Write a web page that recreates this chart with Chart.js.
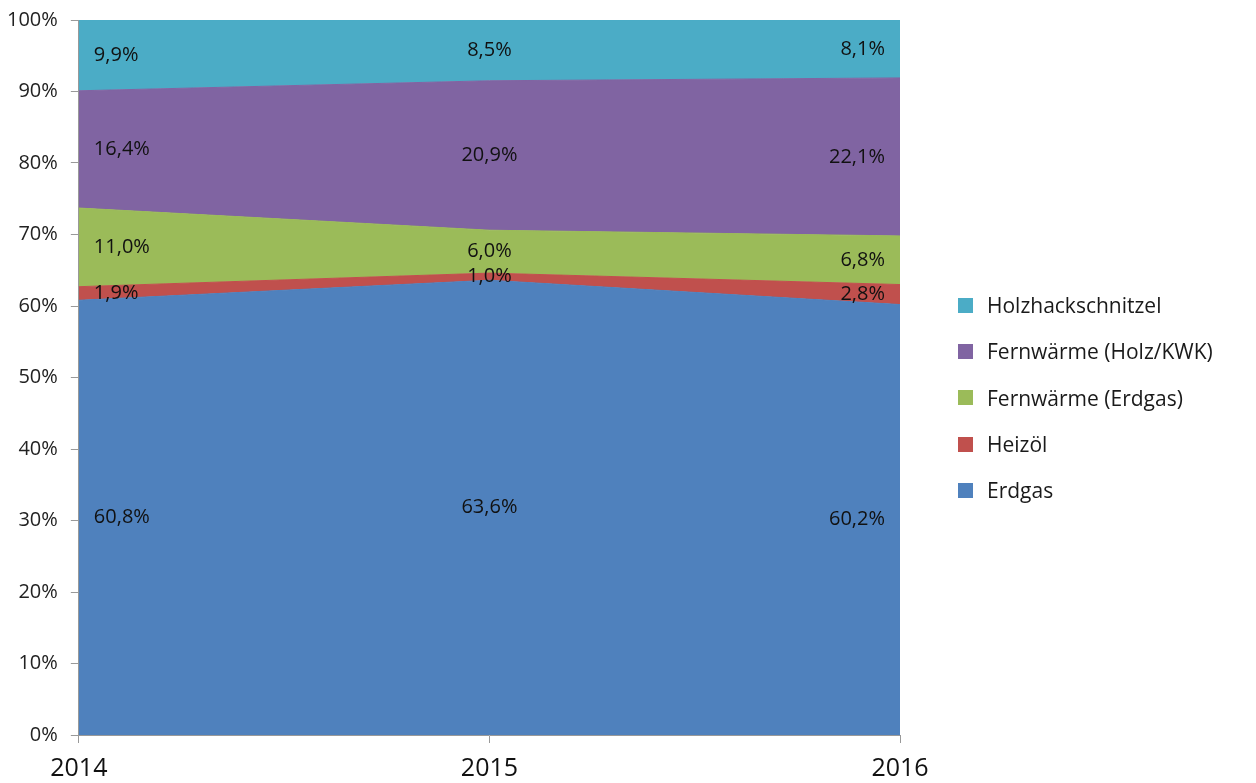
<!DOCTYPE html>
<html>
<head>
<meta charset="utf-8">
<script src="https://cdn.jsdelivr.net/npm/chart.js@4/dist/chart.umd.min.js"></script>
<style>
  html, body { margin: 0; padding: 0; background: #fff; overflow: hidden; }
  #wrap { position: relative; width: 1256px; height: 783px; overflow: hidden; }
  #chart { position: absolute; left: 0; top: -5px; }
  #legend { position: absolute; left: 958px; top: 282px; font-family: "Open Sans", sans-serif; font-size: 21px; color: #1a1a1a; }
  #legend div { height: 46.3px; display: flex; align-items: center; }
  #legend span.box { display: inline-block; width: 15px; height: 15px; margin-right: 14px; }
</style>
</head>
<body>
<div id="wrap">
  <canvas id="chart" width="1256" height="788"></canvas>
  <div id="legend"></div>
</div>
<script>
// years on the x axis
const years = ["2014", "2015", "2016"];

// shares in percent, bottom to top of the stack
const erdgas = [60.8, 63.6, 60.2];
const heizoel = [1.9, 1.0, 2.8];
const fwErdgas = [11.0, 6.0, 6.8];
const fwHolz = [16.4, 20.9, 22.1];
const holzhack = [9.9, 8.5, 8.1];

const seriesNames = ["Erdgas", "Heizöl", "Fernwärme (Erdgas)", "Fernwärme (Holz/KWK)", "Holzhackschnitzel"];
const seriesData = [erdgas, heizoel, fwErdgas, fwHolz, holzhack];
const colors = ["#4F81BD", "#C0504D", "#9BBB59", "#8064A2", "#4BACC6"];

const fontFam = '"Open Sans", sans-serif';

// labels in the middle of each band
const bandLabels = {
  id: "bandLabels",
  afterDatasetsDraw(chart) {
    const ctx = chart.ctx;
    const yScale = chart.scales.y;
    const xScale = chart.scales.x;
    ctx.save();
    ctx.font = "20px " + fontFam;
    ctx.fillStyle = "#111";
    ctx.textBaseline = "middle";
    years.forEach((yr, i) => {
      let base = 0;
      seriesData.forEach((arr) => {
        const v = arr[i];
        const mid = yScale.getPixelForValue(base + v / 2);
        base += v;
        const x = xScale.getPixelForValue(i);
        let tx = x;
        if (i === 0) { ctx.textAlign = "left"; tx = x + 15; }
        else if (i === years.length - 1) { ctx.textAlign = "right"; tx = x - 15; }
        else { ctx.textAlign = "center"; }
        ctx.fillText(v.toFixed(1).replace(".", ",") + "%", tx, mid);
      });
    });
    ctx.restore();
  }
};

const datasets = seriesData.map((arr, k) => ({
  label: seriesNames[k],
  data: arr,
  backgroundColor: colors[k],
  borderColor: colors[k],
  borderWidth: 1,
  pointRadius: 0,
  tension: 0,
  fill: k === 0 ? "origin" : "-1"
}));

new Chart(document.getElementById("chart"), {
  type: "line",
  data: { labels: years, datasets: datasets },
  options: {
    responsive: false,
    animation: false,
    layout: { padding: { left: -6, right: 356, top: 0, bottom: -12 } },
    plugins: { legend: { display: false }, tooltip: { enabled: false } },
    scales: {
      x: {
        offset: false,
        grid: { drawOnChartArea: false, drawTicks: true, tickLength: 8, color: "#999" },
        border: { color: "#999" },
        ticks: { font: { family: fontFam, size: 25 }, color: "#111", padding: 11, maxRotation: 0 }
      },
      y: {
        stacked: true,
        min: 0,
        max: 100,
        grid: { drawOnChartArea: false, drawTicks: true, tickLength: 8, color: "#999" },
        border: { color: "#999" },
        ticks: { stepSize: 10, font: { family: fontFam, size: 20 }, color: "#222", padding: 13,
          callback: (v) => v + "%" }
      }
    }
  },
  plugins: [bandLabels]
});

// legend, top entry is the top band
const lg = document.getElementById("legend");
for (let k = seriesNames.length - 1; k >= 0; k--) {
  const row = document.createElement("div");
  row.innerHTML = '<span class="box" style="background:' + colors[k] + '"></span>' + seriesNames[k];
  lg.appendChild(row);
}
</script>
</body>
</html>
